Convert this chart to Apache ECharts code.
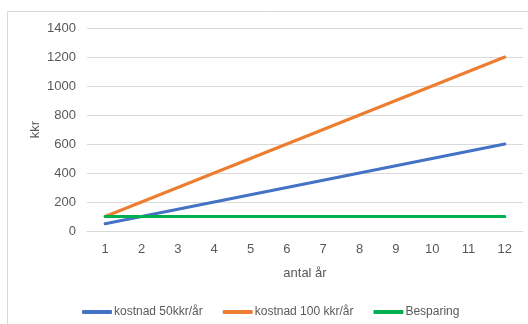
<!DOCTYPE html>
<html><head><meta charset="utf-8">
<script src="https://cdn.jsdelivr.net/npm/echarts@6/dist/echarts.min.js"></script>
<style>html,body{margin:0;padding:0;background:#fff}#c{width:528px;height:324px}</style>
</head><body><div id="c"></div>
<script>
const categories = ['1','2','3','4','5','6','7','8','9','10','11','12'];
const cost50 = [50,100,150,200,250,300,350,400,450,500,550,600];
const cost100 = [100,200,300,400,500,600,700,800,900,1000,1100,1200];
const saving = [100,100,100,100,100,100,100,100,100,100,100,100];
const seriesNames = ['kostnad 50kkr/år','kostnad 100 kkr/år','Besparing'];
const colors = ['#4472C4','#ED7D31','#00B050'];
const font = 'Liberation Sans';
const chart = echarts.init(document.getElementById('c'));
const mk = (name, data, color) => ({
  name, type:'line', data, showSymbol:false, symbol:'none',
  lineStyle:{width:3, color, cap:'round'}, itemStyle:{color}
});
chart.setOption({
  animation:false,
  color: colors,
  graphic:[{type:'rect', shape:{x:7.5,y:11.5,width:700,height:500}, style:{fill:null, stroke:'#d9d9d9', lineWidth:1}}],
  grid:{left:87,right:5,top:28,bottom:93},
  xAxis:{type:'category', data:categories, boundaryGap:true,
    name:'antal år', nameLocation:'middle', nameGap:36,
    nameTextStyle:{color:'#595959', fontSize:13, fontFamily:font},
    axisLine:{lineStyle:{color:'#d9d9d9'}}, axisTick:{show:false},
    axisLabel:{color:'#595959', fontSize:13, fontFamily:font, margin:12}},
  yAxis:{type:'value', min:0, max:1400, interval:200,
    name:'kkr', nameLocation:'middle', nameGap:45, nameRotate:90, nameMoveOverlap:false,
    nameTextStyle:{color:'#595959', fontSize:13, fontFamily:font},
    axisLine:{show:false}, axisTick:{show:false},
    splitLine:{lineStyle:{color:'#d9d9d9', width:1}},
    axisLabel:{color:'#595959', fontSize:13, fontFamily:font, margin:11, formatter:v=>String(v)}},
  legend:{top:301, left:77, icon:'roundRect', itemWidth:30, itemHeight:4, itemGap:20,
    textStyle:{color:'#595959', fontSize:12, fontFamily:font, padding:[0,0,0,-3]},
    data:seriesNames},
  series:[mk(seriesNames[0],cost50,colors[0]), mk(seriesNames[1],cost100,colors[1]), mk(seriesNames[2],saving,colors[2])]
});
</script></body></html>
